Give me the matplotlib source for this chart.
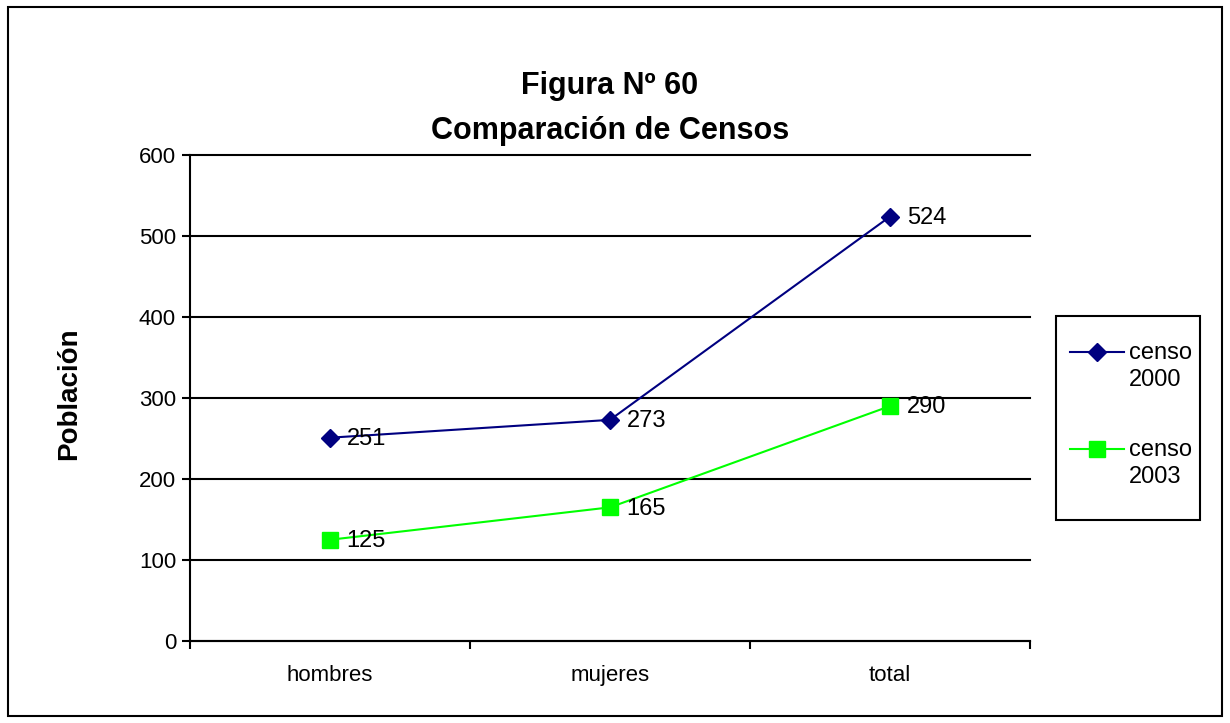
import numpy as np
import matplotlib.pyplot as plt
from matplotlib.patches import Rectangle
from matplotlib.legend_handler import HandlerLine2D

plt.rcParams['font.family'] = ['Liberation Sans', 'DejaVu Sans']

categorias = ['hombres', 'mujeres', 'total']
censo_2000 = [251, 273, 524]
censo_2003 = [125, 165, 290]

LEG_FS = 17


class HandlerArriba(HandlerLine2D):
    # coloca la línea de la leyenda a la altura de la primera línea del texto
    def create_artists(self, legend, orig_handle, xdescent, ydescent,
                       width, height, fontsize, trans):
        arts = super().create_artists(legend, orig_handle, xdescent, ydescent,
                                      width, height, fontsize, trans)
        for a in arts:
            a.set_ydata(np.asarray(a.get_ydata()) + fontsize * 0.62)
        return arts


fig = plt.figure(figsize=(12.3, 7.23), dpi=100)
ax = fig.add_axes([190 / 1230, 82 / 723, 840 / 1230, 486 / 723])

# marco exterior
fig.patches.append(Rectangle((8 / 1230, 7 / 723), 1214 / 1230, 709 / 723,
                             transform=fig.transFigure, fill=False,
                             edgecolor='black', linewidth=1.5))
# marco de la leyenda
fig.patches.append(Rectangle((1056 / 1230, 1 - 520 / 723), 144 / 1230,
                             204 / 723, transform=fig.transFigure, fill=False,
                             edgecolor='black', linewidth=1.5))

x = range(len(categorias))
l1, = ax.plot(x, censo_2000, color='#000080', marker='D', markersize=9,
              linewidth=1.5, label='censo\n2000', clip_on=False, zorder=3)
l2, = ax.plot(x, censo_2003, color='#00ff00', marker='s', markersize=11,
              linewidth=1.5, label='censo\n2003', clip_on=False, zorder=3)

for serie in (censo_2000, censo_2003):
    for i, v in enumerate(serie):
        ax.annotate(str(v), (i, v), xytext=(12, -1), textcoords='offset points',
                    va='center', ha='left', fontsize=17, zorder=4)

ax.set_xlim(-0.5, 2.5)
ax.set_ylim(0, 600)
ax.set_yticks(range(0, 601, 100))
ax.yaxis.grid(True, color='black', linewidth=1.5)
for gl in ax.get_ygridlines():
    gl.set_clip_on(False)
ax.set_axisbelow(True)

ax.set_xticks([-0.5, 0.5, 1.5, 2.5])
ax.set_xticklabels([])
ax.set_xticks(list(x), minor=True)
ax.set_xticklabels(categorias, minor=True, fontsize=16)
ax.tick_params(axis='x', which='minor', length=0, pad=17)
ax.tick_params(axis='x', which='major', length=6, width=1.5, direction='out')
ax.tick_params(axis='y', length=6, width=1.5, labelsize=16, pad=4)

for s in ['top', 'right']:
    ax.spines[s].set_visible(False)
for s in ['left', 'bottom']:
    ax.spines[s].set_linewidth(1.5)

ax.set_ylabel('Población', fontsize=20, fontweight='bold')
ax.yaxis.set_label_coords(-0.128, 0.508)

fig.text(610 / 1230, 1 - 86 / 723, 'Figura Nº 60', ha='center', va='center',
         fontsize=22, fontweight='bold')
fig.text(610 / 1230, 1 - 131 / 723, 'Comparación de Censos', ha='center',
         va='center', fontsize=22, fontweight='bold')

leg = fig.legend(handles=[l1, l2], loc='center',
                 bbox_to_anchor=(1131 / 1230, 1 - 415 / 723),
                 fontsize=LEG_FS, frameon=False, handlelength=2.3,
                 labelspacing=2.05, borderpad=0, handletextpad=0.2,
                 borderaxespad=0,
                 handler_map={l1: HandlerArriba(), l2: HandlerArriba()})
for t in leg.get_texts():
    t.set_linespacing(1.3)

fig.savefig('out.png', dpi=100)
